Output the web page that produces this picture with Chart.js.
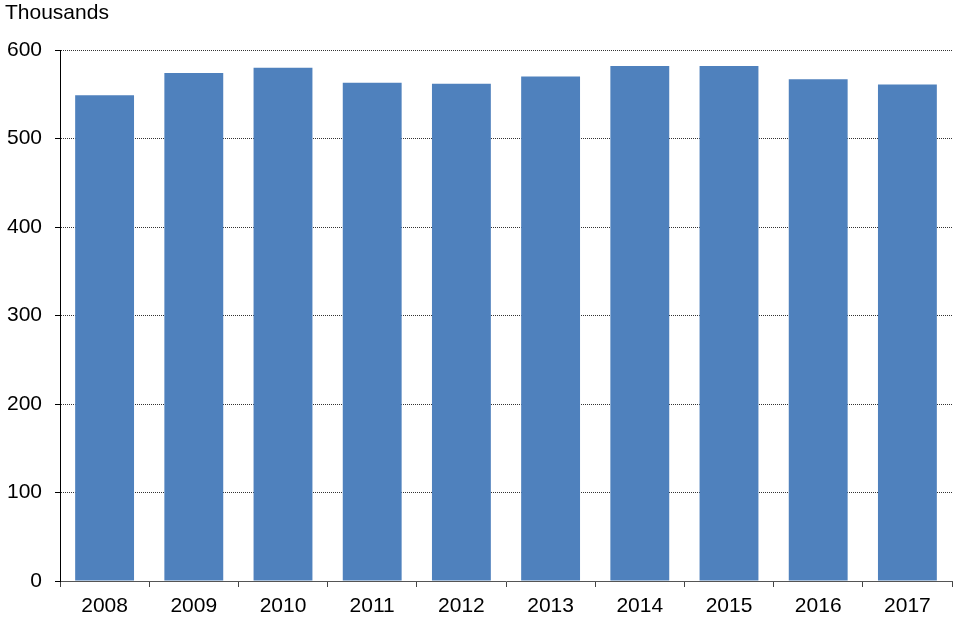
<!DOCTYPE html>
<html>
<head>
<meta charset="utf-8">
<script src="https://cdn.jsdelivr.net/npm/chart.js@4/dist/chart.umd.min.js"></script>
<style>
html,body{margin:0;padding:0;background:#fff;}
#wrap{width:960px;height:640px;}
</style>
</head>
<body>
<div id="wrap"><canvas id="c" width="960" height="640"></canvas></div>
<script>
const categories = ["2008","2009","2010","2011","2012","2013","2014","2015","2016","2017"];
const values = [549, 574, 580, 563, 562, 570, 582, 582, 567, 561];
const yTicks = [0, 100, 200, 300, 400, 500, 600];
const unitLabel = "Thousands";

const FONT = "'Liberation Sans', Arial, sans-serif";
Chart.defaults.font.family = FONT;
Chart.defaults.color = "#000";

const unitPlugin = {
  id: 'unitLabel',
  afterDraw(chart) {
    const ctx = chart.ctx;
    ctx.save();
    ctx.font = "21px " + FONT;
    ctx.fillStyle = '#000';
    ctx.textAlign = 'left';
    ctx.textBaseline = 'middle';
    ctx.fillText(unitLabel, 5, 13);
    ctx.restore();
  }
};

new Chart(document.getElementById('c'), {
  type: 'bar',
  data: {
    labels: categories,
    datasets: [{
      data: values,
      backgroundColor: '#4F81BD',
      borderWidth: 0,
      barPercentage: 0.66,
      categoryPercentage: 1.0
    }]
  },
  plugins: [unitPlugin],
  options: {
    responsive: false,
    animation: false,
    devicePixelRatio: 1,
    layout: { padding: { left: 0, right: 8, top: 50, bottom: 0 } },
    plugins: {
      legend: { display: false },
      tooltip: { enabled: false },
      title: { display: false }
    },
    scales: {
      x: {
        offset: true,
        afterFit: (s) => { s.height = 59; },
        grid: {
          offset: true,
          drawOnChartArea: false,
          drawTicks: true,
          tickLength: 6,
          color: '#444',
          lineWidth: 1
        },
        border: { display: true, color: '#555', width: 1 },
        ticks: {
          font: { size: 21, family: FONT },
          color: '#000',
          padding: 7
        }
      },
      y: {
        min: 0,
        max: 600,
        afterFit: (s) => { s.width = 60; },
        afterBuildTicks: (s) => { s.ticks = yTicks.map(v => ({ value: v })); },
        grid: {
          color: '#333',
          lineWidth: 1,
          tickBorderDash: [],
          tickLength: 5,
          tickColor: '#000'
        },
        border: { display: true, color: '#000', width: 1, dash: [1, 1] },
        ticks: {
          font: { size: 21, family: FONT },
          color: '#000',
          padding: 13
        }
      }
    }
  }
});
</script>
</body>
</html>
